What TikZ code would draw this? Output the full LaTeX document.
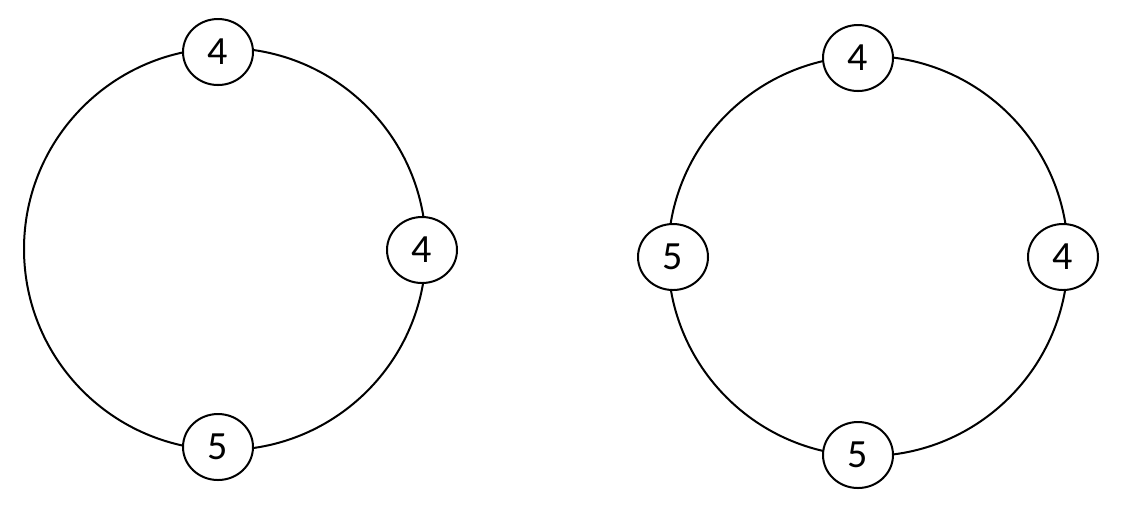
\documentclass[tikz,border=0pt]{standalone}
\usepackage{fontspec}
\setmainfont{Carlito}
\usetikzlibrary{shapes.geometric}

\begin{document}
\begin{tikzpicture}[x=0.5pt,y=-0.5pt,
  ring/.style={line width=1pt,black},
  bead/.style={draw,ellipse,line width=1pt,fill=white,inner sep=0pt,
    minimum width=35pt,minimum height=33pt,font=\fontsize{20}{22}\selectfont}]
  \useasboundingbox (0,0) rectangle (1134,511);

  % left ring
  \coordinate (Left Center) at (225,249);
  \draw[ring] (Left Center) circle[radius=100.5pt];
  \node[bead] at (218,52) (Left Top) {4};
  \node[bead] at (422,250) (Left Right) {4};
  \node[bead] at (218,447) (Left Bottom) {5};

  % right ring
  \coordinate (Right Center) at (868,256);
  \draw[ring] (Right Center) circle[radius=100pt];
  \node[bead] at (858,58) (Right Top) {4};
  \node[bead] at (673,257) (Right Left) {5};
  \node[bead] at (1063,257) (Right Right) {4};
  \node[bead] at (858,455) (Right Bottom) {5};
\end{tikzpicture}
\end{document}
